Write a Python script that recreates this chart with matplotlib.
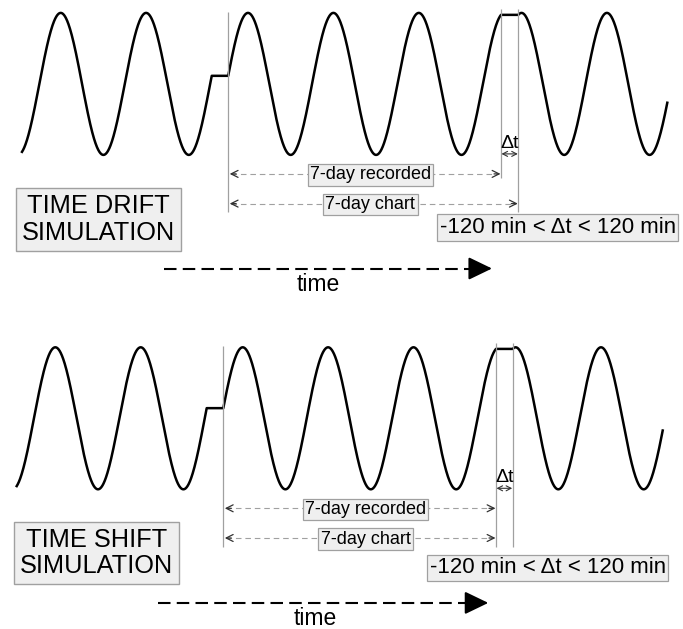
import matplotlib.pyplot as plt
import numpy as np

plt.rcParams['font.family'] = ['Liberation Sans', 'DejaVu Sans']

# Panel texts
panel_titles = ['TIME DRIFT\nSIMULATION', 'TIME SHIFT\nSIMULATION']
span_labels = ['7-day recorded', '7-day chart']
range_label = '-120 min < \u0394t < 120 min'
delta_label = '\u0394t'
time_label = 'time'

# Waveform (schematic time axis, one unit = one px of the drawing)
period = 85.4
amplitude = 71.0
baseline = [83.9, 418.3]
first_peak = [60.7, 55.3]
wave_start = [22.0, 16.7]
wave_end = [667.3, 662.7]
pause_start = [[211.7, 501.0], [206.7, 496.0]]
pause_length = [[16.5, 17.3], [16.6, 16.7]]
chart_to_pause_end = [True, False]   # drift: chart longer than record

# layout
title_x = [98.5, 96.5]
title_dy = [135.6, 134.7]
range_x = [439.5, 429.5]
range_dy = [143.6, 149.5]
time_shaft = [(164.0, 492.0), (158.0, 488.3)]
time_text_x = [318.3, 315.5]

GRAY = '#a0a0a0'
DARK = '#333333'


def signal(x, peak, pauses):
    t = x.copy()
    for s, L in pauses:
        t -= np.clip(x - s, 0, L)
    return np.cos(2 * np.pi * (t - peak) / period)


fig = plt.figure(figsize=(6.83, 6.29), dpi=100)
ax = fig.add_axes([0, 0, 1, 1])
ax.set_xlim(0, 683)
ax.set_ylim(629, 0)
ax.axis('off')

for i in range(2):
    b = baseline[i]
    pauses = list(zip(pause_start[i], pause_length[i]))

    # the signal with its flat pauses
    x = np.arange(wave_start[i], wave_end[i], 0.25)
    edges = [s for s, _ in pauses] + [s + L for s, L in pauses] + [wave_end[i]]
    x = np.union1d(x, edges)
    y = b - amplitude * signal(x, first_peak[i], pauses)
    ax.plot(x, y, color='black', lw=1.8)

    rec_start = pause_start[i][0] + pause_length[i][0]
    rec_end = pause_start[i][1]
    gap_end = rec_end + pause_length[i][1]
    chart_end = gap_end if chart_to_pause_end[i] else rec_end

    y_rec = b + 90
    y_chart = b + 119.7

    # vertical markers
    ax.vlines(rec_start, b - 72, b + 128.5, color=GRAY, lw=0.9)
    ax.vlines(rec_end, b - 75, y_rec + 4 if chart_to_pause_end[i] else b + 128.5,
              color=GRAY, lw=0.9)
    ax.vlines(gap_end, b - 75, b + 128.5, color=GRAY, lw=0.9)

    # dashed spans with labels
    for label, yy, x1 in zip(span_labels, [y_rec, y_chart], [rec_end, chart_end]):
        ax.plot([rec_start + 3, x1 - 3], [yy, yy], color=GRAY, lw=0.8, ls=(0, (5, 3.5)))
        for xe, xs in [(rec_start + 1.5, rec_start + 8), (x1 - 0.5, x1 - 7)]:
            ax.annotate('', xy=(xe, yy), xytext=(xs, yy),
                        arrowprops=dict(arrowstyle='->,head_length=0.5,head_width=0.25',
                                        color=DARK, lw=0.9, shrinkA=0, shrinkB=0))
        ax.text((rec_start + rec_end) / 2 + 5.8, yy + 1, label, ha='center', va='center',
                fontsize=13,
                bbox=dict(boxstyle='square,pad=0.12', fc='#efefef', ec=GRAY, lw=0.9))

    # delta t
    ax.text((rec_end + gap_end) / 2, b + 59.5, delta_label, ha='center', va='center',
            fontsize=14)
    ax.annotate('', xy=(rec_end + 0.5, b + 70), xytext=(gap_end - 0.5, b + 70),
                arrowprops=dict(arrowstyle='<->,head_length=0.35,head_width=0.18',
                                color=DARK, lw=0.8, shrinkA=0, shrinkB=0))

    # panel title
    ax.text(title_x[i], b + title_dy[i], panel_titles[i], ha='center', va='center',
            fontsize=18.3, linespacing=1.12,
            bbox=dict(boxstyle='square,pad=0.25', fc='#efefef', ec=GRAY, lw=1.0))

    # allowed range
    ax.text(range_x[i], b + range_dy[i], range_label, ha='left', va='center',
            fontsize=16.0,
            bbox=dict(boxstyle='square,pad=0.12', fc='#efefef', ec=GRAY, lw=0.9))

    # time arrow
    x0, tip = time_shaft[i]
    ty = b + 184.6
    ax.plot([x0, tip - 18], [ty, ty], color='black', lw=1.5, ls=(0, (6, 3)))
    ax.annotate('', xy=(tip, ty), xytext=(tip - 20, ty),
                arrowprops=dict(arrowstyle='-|>,head_length=1.45,head_width=0.7',
                                color='black', lw=1.5, shrinkA=0, shrinkB=0))
    ax.text(time_text_x[i], b + 200.5, time_label, ha='center', va='center', fontsize=16.5)

fig.savefig('out.png', dpi=100)
